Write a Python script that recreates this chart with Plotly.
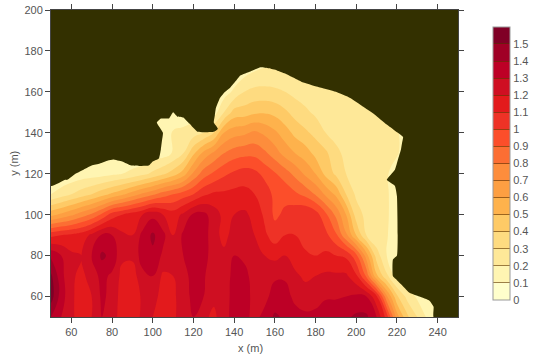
import plotly.graph_objects as go

x_m = [50, 55, 60, 65, 70, 75, 80, 85, 90, 95, 100, 105, 110, 115, 120, 125, 130, 135, 140, 145,
       150, 155, 160, 165, 170, 175, 180, 185, 190, 195, 200, 205, 210, 215, 220, 225, 230, 235, 240]
y_m = [50, 60, 70, 80, 90, 100, 110, 120, 130, 140, 150, 160, 170, 180]

h_y50 = [1.40, 1.30, 1.22, 1.15, 1.20, 1.30, 1.25, 1.15, 1.15, 1.22, 1.20, 1.15, 1.18, 1.25, 1.30, 1.22, 1.18, 1.25, 1.35, 1.32,
         1.28, 1.32, 1.42, 1.38, 1.33, 1.32, 1.32, 1.35, 1.36, 1.38, 1.42, 1.42, 1.30, 1.05, 0.65, 0.42, 0.30, 0.18, 0.10]
h_y60 = [1.55, 1.35, 1.22, 1.15, 1.20, 1.32, 1.27, 1.15, 1.13, 1.22, 1.25, 1.15, 1.18, 1.25, 1.33, 1.30, 1.22, 1.25, 1.34, 1.34,
         1.27, 1.28, 1.33, 1.33, 1.28, 1.25, 1.27, 1.29, 1.29, 1.30, 1.32, 1.30, 1.12, 0.72, 0.42, 0.27, 0.18, 0.12, 0.10]
h_y70 = [1.52, 1.33, 1.22, 1.17, 1.25, 1.33, 1.28, 1.17, 1.15, 1.27, 1.30, 1.18, 1.20, 1.27, 1.33, 1.31, 1.25, 1.25, 1.33, 1.33,
         1.26, 1.27, 1.29, 1.29, 1.22, 1.18, 1.20, 1.22, 1.22, 1.22, 1.12, 0.88, 0.52, 0.32, 0.15, 0.12, 0.10, 0.10, 0.10]
h_y80 = [1.38, 1.30, 1.22, 1.20, 1.30, 1.42, 1.37, 1.22, 1.22, 1.35, 1.38, 1.28, 1.24, 1.30, 1.34, 1.34, 1.25, 1.23, 1.30, 1.28,
         1.22, 1.20, 1.17, 1.20, 1.15, 1.12, 1.10, 1.12, 1.10, 1.08, 0.93, 0.65, 0.35, 0.20, 0.12, 0.10, 0.10, 0.10, 0.10]
h_y90 = [1.07, 1.10, 1.12, 1.15, 1.22, 1.31, 1.30, 1.22, 1.20, 1.33, 1.42, 1.33, 1.20, 1.32, 1.35, 1.34, 1.25, 1.16, 1.25, 1.26,
         1.20, 1.12, 1.05, 1.10, 1.10, 1.05, 1.05, 1.03, 0.92, 0.72, 0.50, 0.30, 0.22, 0.21, 0.12, 0.10, 0.10, 0.10, 0.10]
h_y100 = [0.57, 0.62, 0.68, 0.75, 0.82, 0.92, 1.05, 1.10, 1.15, 1.20, 1.27, 1.20, 1.15, 1.22, 1.32, 1.33, 1.25, 1.17, 1.20, 1.22,
          1.17, 1.08, 0.98, 1.02, 1.07, 1.10, 1.05, 0.92, 0.78, 0.60, 0.35, 0.27, 0.23, 0.22, 0.12, 0.10, 0.10, 0.10, 0.10]
h_y110 = [0.20, 0.25, 0.30, 0.35, 0.40, 0.46, 0.52, 0.58, 0.65, 0.72, 0.78, 0.85, 0.90, 0.95, 1.00, 1.08, 1.12, 1.12, 1.13, 1.13,
          1.10, 1.06, 0.97, 0.97, 0.92, 0.87, 0.79, 0.68, 0.58, 0.40, 0.28, 0.24, 0.22, 0.22, 0.12, 0.10, 0.10, 0.10, 0.10]
h_y120 = [0.10, 0.10, 0.12, 0.14, 0.15, 0.16, 0.18, 0.20, 0.23, 0.27, 0.32, 0.38, 0.45, 0.55, 0.72, 0.85, 0.92, 0.98, 1.02, 1.05,
          1.03, 0.97, 0.91, 0.85, 0.77, 0.68, 0.60, 0.47, 0.38, 0.30, 0.24, 0.22, 0.22, 0.21, 0.15, 0.10, 0.10, 0.10, 0.10]
h_y130 = [0.10, 0.10, 0.10, 0.10, 0.10, 0.10, 0.10, 0.10, 0.10, 0.10, 0.15, 0.15, 0.21, 0.30, 0.48, 0.63, 0.72, 0.80, 0.85, 0.87,
          0.87, 0.82, 0.75, 0.66, 0.60, 0.55, 0.47, 0.42, 0.33, 0.27, 0.23, 0.22, 0.22, 0.21, 0.21, 0.15, 0.10, 0.10, 0.10]
h_y140 = [0.10, 0.10, 0.10, 0.10, 0.10, 0.10, 0.10, 0.10, 0.10, 0.10, 0.12, 0.12, 0.21, 0.22, 0.25, 0.30, 0.40, 0.60, 0.66, 0.68,
          0.72, 0.68, 0.62, 0.55, 0.47, 0.42, 0.37, 0.30, 0.26, 0.23, 0.22, 0.22, 0.22, 0.21, 0.21, 0.15, 0.10, 0.10, 0.10]
h_y150 = [0.10, 0.10, 0.10, 0.10, 0.10, 0.10, 0.10, 0.10, 0.10, 0.10, 0.10, 0.10, 0.15, 0.15, 0.15, 0.15, 0.15, 0.30, 0.44, 0.45,
          0.48, 0.49, 0.47, 0.42, 0.36, 0.32, 0.28, 0.25, 0.23, 0.22, 0.22, 0.21, 0.21, 0.20, 0.15, 0.10, 0.10, 0.10, 0.10]
h_y160 = [0.10, 0.10, 0.10, 0.10, 0.10, 0.10, 0.10, 0.10, 0.10, 0.10, 0.10, 0.10, 0.10, 0.10, 0.10, 0.10, 0.12, 0.15, 0.22, 0.30,
          0.33, 0.33, 0.32, 0.30, 0.27, 0.25, 0.23, 0.22, 0.21, 0.21, 0.21, 0.15, 0.10, 0.10, 0.10, 0.10, 0.10, 0.10, 0.10]
h_y170 = [0.10, 0.10, 0.10, 0.10, 0.10, 0.10, 0.10, 0.10, 0.10, 0.10, 0.10, 0.10, 0.10, 0.10, 0.10, 0.10, 0.10, 0.10, 0.12, 0.16,
          0.20, 0.22, 0.22, 0.22, 0.21, 0.21, 0.15, 0.10, 0.10, 0.10, 0.10, 0.10, 0.10, 0.10, 0.10, 0.10, 0.10, 0.10, 0.10]
h_y180 = [0.10] * 39

land_x = [50, 57, 58, 62, 66, 70, 74, 78, 80.5, 85, 89.5, 98, 100, 103, 104, 104.5, 105, 102, 104, 108, 110, 112, 115, 118, 122, 130, 132, 130,
          130.5, 131, 133, 135, 138, 141, 143, 148, 153, 157, 161, 165, 169, 173, 181, 190, 197, 203, 209, 215, 219, 223, 222.5, 222, 220.5, 219, 215, 219, 220, 220, 218, 218, 220, 222, 226, 231, 236, 238, 238, 250, 250, 50, 50]
land_y = [114, 117, 117, 120, 122, 124, 125, 126.5, 127, 126, 124, 124, 126, 127.5, 132, 136, 140, 145, 147, 147, 150, 148, 147.5, 144.5, 140.5, 140.5, 142, 145,
          148.5, 152, 157, 159.5, 162, 165.5, 168, 170, 172, 171.5, 170.5, 169, 167, 165, 162.5, 160, 157, 153, 149, 144, 141, 138, 135, 132, 127, 122, 117, 114, 109, 80, 78, 70, 68, 66, 62, 60, 58, 55, 50, 50, 200, 200, 114]

bar_ticks = [0, 0.1, 0.2, 0.3, 0.4, 0.5, 0.6, 0.7, 0.8, 0.9, 1, 1.1, 1.2, 1.3, 1.4, 1.5]
band_colors = ["#FFFFCC", "#FFF5B2", "#FEE898", "#FEDB80", "#FECA66", "#FEB24C", "#FD9F42", "#FD8D3C",
               "#FC6E33", "#FC4E2A", "#EE3226", "#E31A1C", "#CF0F22", "#BD0026", "#A00026", "#800026"]
land_color = "#333000"
text_color = "#555555"

scale = []
for i, c in enumerate(band_colors):
    scale.append([i / len(band_colors), c])
    scale.append([(i + 1) / len(band_colors), c])

z = [h_y50, h_y60, h_y70, h_y80, h_y90, h_y100, h_y110, h_y120, h_y130, h_y140, h_y150, h_y160, h_y170, h_y180]

fig = go.Figure()
fig.add_trace(go.Contour(
    x=x_m, y=y_m, z=z, zmin=0, zmax=1.6, colorscale=scale,
    contours=dict(start=0, end=1.6, size=0.1, coloring="fill", showlines=False),
    line=dict(width=0, smoothing=1.3),
    hoverinfo="skip",
    colorbar=dict(
        x=1.085, xanchor="left", xpad=0, y=0.945, yanchor="top", ypad=0,
        lenmode="pixels", len=273, thickness=17, thicknessmode="pixels",
        outlinecolor="#999999", outlinewidth=1, borderwidth=0,
        tickmode="array", tickvals=bar_ticks, ticks="inside", ticklen=17, tickwidth=1,
        tickcolor="rgba(90,50,0,0.6)",
        tickfont=dict(family="Liberation Sans", size=11, color=text_color),
    ),
))
fig.add_trace(go.Scatter(x=land_x, y=land_y, mode="lines", fill="toself", fillcolor=land_color,
                         line=dict(width=0, color=land_color, shape="spline", smoothing=0.4), hoverinfo="skip", showlegend=False))

axis = dict(dtick=20, tick0=0, ticks="outside", ticklen=5, tickwidth=1, tickcolor="#444444",
            showgrid=False, zeroline=False, showline=True, linecolor="#444444", linewidth=1, mirror="ticks",
            tickfont=dict(family="Liberation Sans", size=11, color=text_color))
title_font = dict(family="Liberation Sans", size=11, color=text_color)
fig.update_layout(
    width=534, height=358, autosize=False,
    margin=dict(l=51, r=76, t=10, b=41, autoexpand=False),
    paper_bgcolor="white", plot_bgcolor=land_color, showlegend=False,
    xaxis=dict(axis, range=[50, 250]),
    yaxis=dict(axis, range=[50, 200]),
    annotations=[
        dict(text="x (m)", xref="paper", yref="paper", x=0.49, y=-0.075, yanchor="top", showarrow=False, font=title_font),
        dict(text="y (m)", xref="paper", yref="paper", x=-0.073, xanchor="right", y=0.5, textangle=-90, showarrow=False, font=title_font),
    ],
)
fig.write_html("out.html", config={"displayModeBar": False},
               post_script="document.body.style.margin='0';document.documentElement.style.overflow='hidden';")
